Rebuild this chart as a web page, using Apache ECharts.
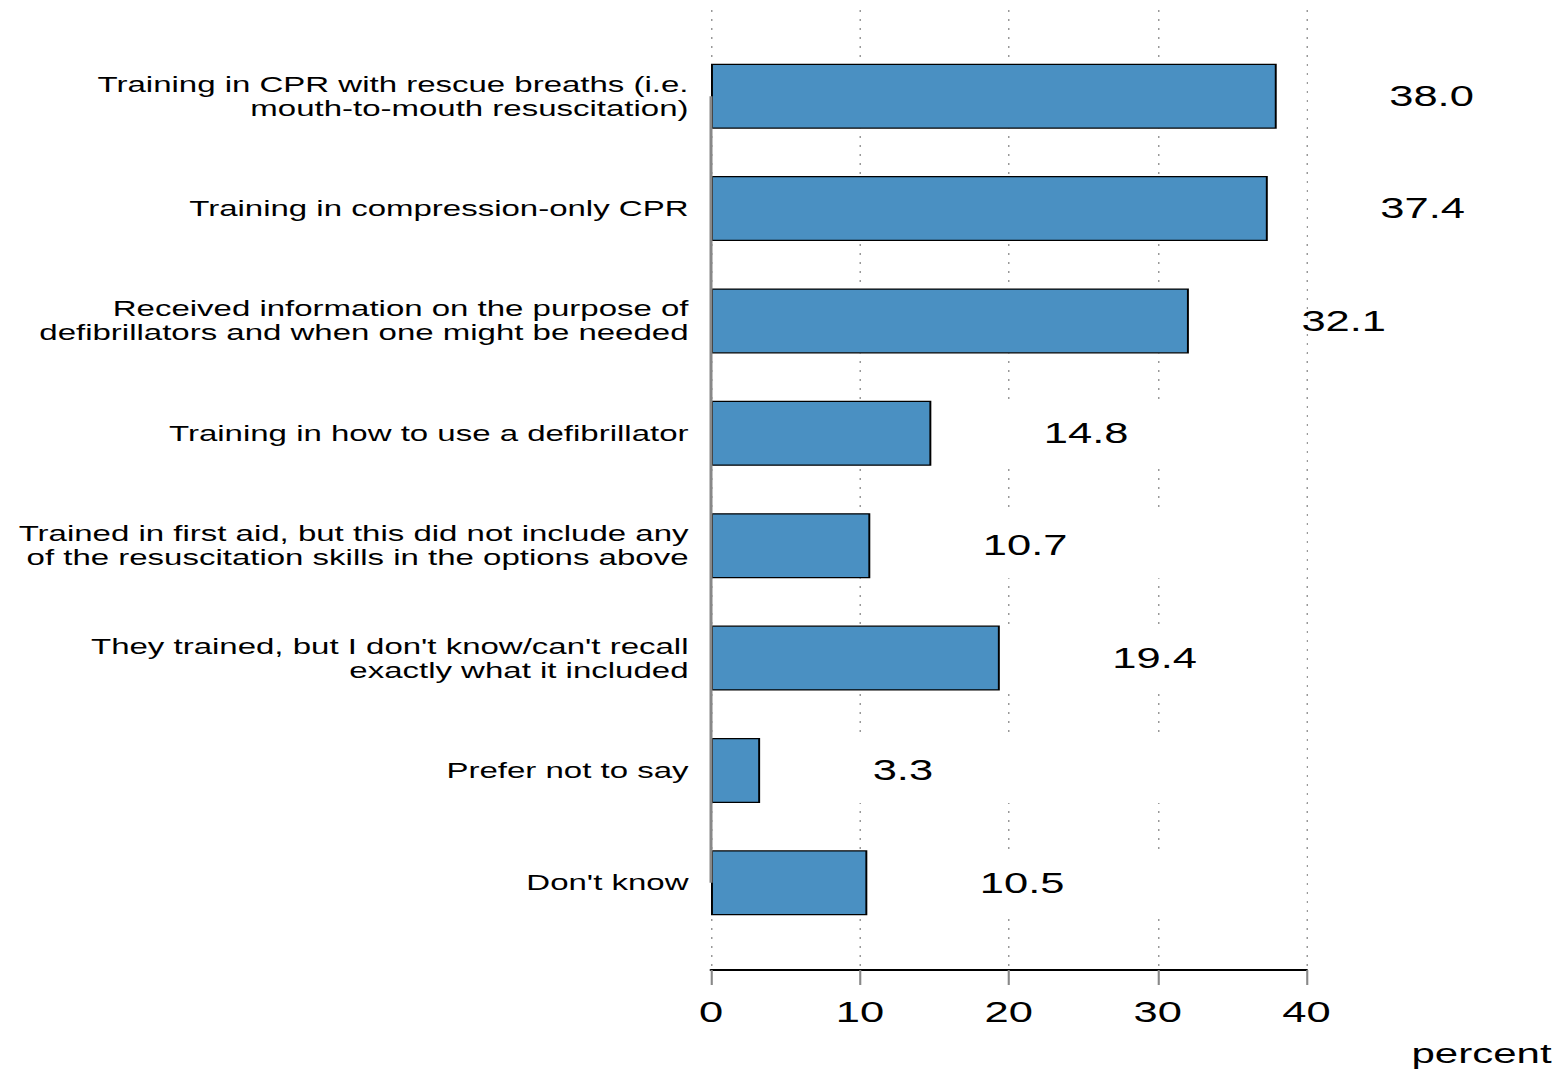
<!DOCTYPE html>
<html>
<head>
<meta charset="utf-8">
<script src="https://cdn.jsdelivr.net/npm/echarts@6/dist/echarts.min.js"></script>
<style>
html,body{margin:0;padding:0;background:#fff;overflow:hidden;}
/* the reference is drawn horizontally stretched (wide glyphs); reproduce with a horizontal scale */
#chart{width:1042.67px;height:1071px;transform:scaleX(1.5);transform-origin:0 0;}
</style>
</head>
<body>
<div id="chart"></div>
<script>
const categories = [
  "Training in CPR with rescue breaths (i.e.\nmouth-to-mouth resuscitation)",
  "Training in compression-only CPR",
  "Received information on the purpose of\ndefibrillators and when one might be needed",
  "Training in how to use a defibrillator",
  "Trained in first aid, but this did not include any\nof the resuscitation skills in the options above",
  "They trained, but I don't know/can't recall\nexactly what it included",
  "Prefer not to say",
  "Don't know"
];
const values = [38.0, 37.4, 32.1, 14.8, 10.7, 19.4, 3.3, 10.5];
const xTicks = [0, 10, 20, 30, 40];
const axisName = "percent";

const FONT = "'Liberation Sans', Arial, Helvetica, sans-serif";
const chart = echarts.init(document.getElementById('chart'), null, {renderer: 'svg'});
chart.setOption({
  animation: false,
  backgroundColor: '#fff',
  grid: [
    {left: 474, right: 172, top: 40, height: 899},
    {left: 474, right: 172, top: 10, height: 960}
  ],
  xAxis: [
    {gridIndex: 0, type: 'value', min: xTicks[0], max: xTicks[xTicks.length-1], interval: 10, show: false},
    {gridIndex: 1, type: 'value', min: xTicks[0], max: xTicks[xTicks.length-1], interval: 10,
     name: axisName, nameLocation: 'end', nameGap: 70,
     nameTextStyle: {fontFamily: FONT, fontSize: 28, color: '#000', align: 'left', verticalAlign: 'top', padding: [70,0,0,0]},
     axisLine: {show: true, lineStyle: {color: '#000', width: 2}},
     axisTick: {show: true, length: 15, lineStyle: {color: '#888', width: 1.4}},
     axisLabel: {fontFamily: FONT, fontSize: 29, color: '#000', margin: 28},
     splitLine: {show: true, lineStyle: {color: '#999', width: 1, type: [2, 7]}}
    }
  ],
  yAxis: [
    {gridIndex: 0, type: 'category', data: categories, inverse: true,
     axisLine: {show: false}, axisTick: {show: false}, splitLine: {show: false},
     axisLabel: {fontFamily: FONT, fontSize: 22, color: '#000', margin: 15, lineHeight: 24, align: 'right'}
    },
    {gridIndex: 1, type: 'value', show: false}
  ],
  series: [{
    type: 'bar',
    xAxisIndex: 0, yAxisIndex: 0,
    data: values,
    barWidth: 65,
    showBackground: true,
    backgroundStyle: {color: '#fff'},
    itemStyle: {color: '#4a90c2', borderColor: '#000', borderWidth: 1.3},
    label: {show: true, position: 'right', distance: 75, fontFamily: FONT, fontSize: 29, color: '#000',
            formatter: p => p.value.toFixed(1)},
    markLine: {
      silent: true, symbol: 'none', label: {show: false},
      lineStyle: {color: '#888', width: 2, type: 'solid'},
      data: [[{coord: [0, categories[0]]}, {coord: [0, categories[categories.length-1]]}]]
    }
  }]
});
</script>
</body>
</html>
